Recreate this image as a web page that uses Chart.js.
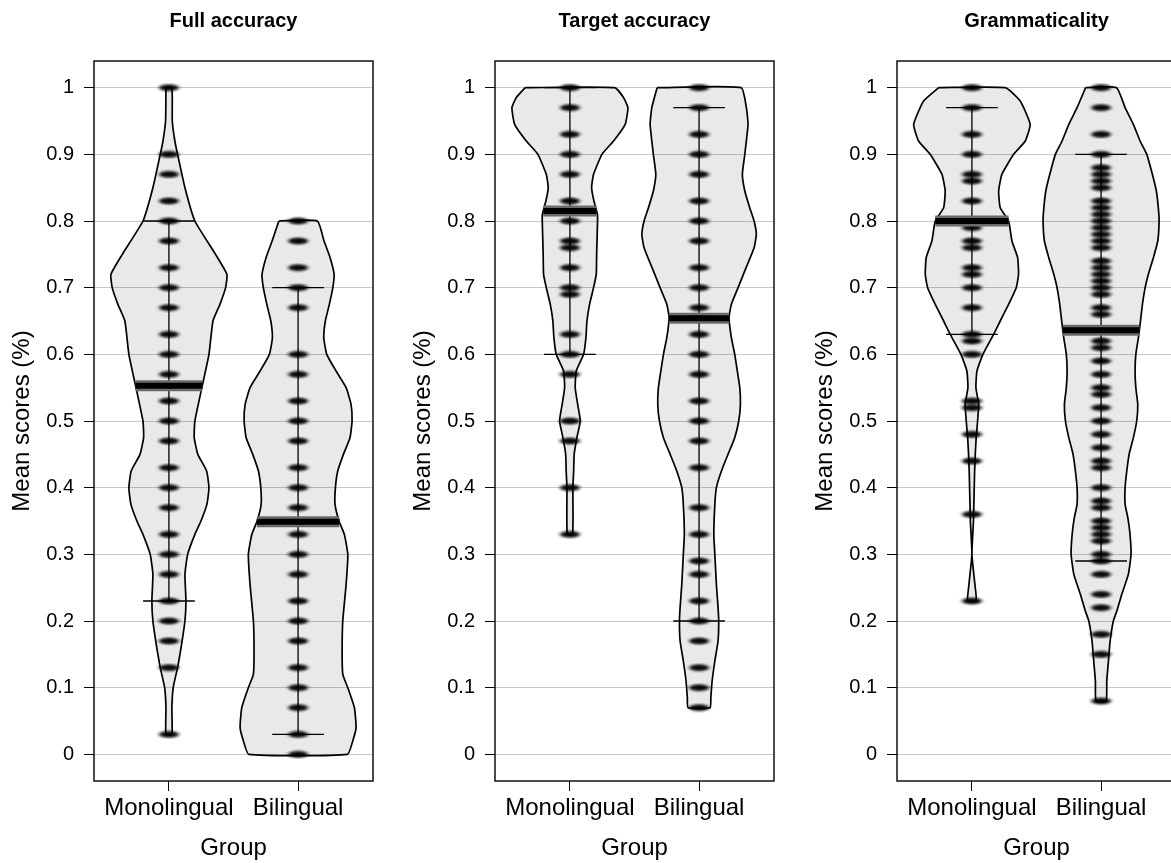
<!DOCTYPE html>
<html>
<head>
<meta charset="utf-8">
<title>Mean scores by group</title>
<script src="https://cdn.jsdelivr.net/npm/chart.js@4.4.1/dist/chart.umd.min.js"></script>
<style>
  html, body { margin: 0; padding: 0; background: #fff; overflow: hidden; }
  #wrap { position: relative; width: 1171px; height: 863px; overflow: hidden; }
  canvas { position: absolute; top: 0; }
</style>
</head>
<body>
<div id="wrap">
  <canvas id="full" width="380" height="863" style="left:0px"></canvas>
  <canvas id="target" width="380" height="863" style="left:401px"></canvas>
  <canvas id="gram" width="380" height="863" style="left:803px"></canvas>
</div>
<script>
const groups = ['Monolingual', 'Bilingual'];
const yTicks = [0, 0.1, 0.2, 0.3, 0.4, 0.5, 0.6, 0.7, 0.8, 0.9, 1];

// bean outlines: score levels (top to bottom) and half-widths in group-axis units
const fullMonoY = [1.0, 0.95, 0.92, 0.9, 0.85, 0.8, 0.75, 0.72, 0.7, 0.675, 0.65, 0.6, 0.55, 0.5, 0.475, 0.45, 0.425, 0.4, 0.375, 0.35, 0.33, 0.3, 0.27, 0.23, 0.2, 0.165, 0.13, 0.1, 0.07, 0.03];
const fullMonoW = [0.023, 0.026, 0.046, 0.067, 0.124, 0.201, 0.361, 0.449, 0.439, 0.395, 0.341, 0.310, 0.255, 0.201, 0.196, 0.224, 0.292, 0.310, 0.294, 0.248, 0.201, 0.145, 0.124, 0.132, 0.124, 0.098, 0.067, 0.033, 0.023, 0.023];
const fullBiY = [0.8, 0.77, 0.745, 0.72, 0.7, 0.675, 0.65, 0.625, 0.6, 0.575, 0.55, 0.525, 0.5, 0.475, 0.45, 0.425, 0.4, 0.375, 0.35, 0.33, 0.3, 0.255, 0.2, 0.155, 0.12, 0.1, 0.07, 0.04, 0.02, 0.0];
const fullBiW = [0.149, 0.201, 0.248, 0.279, 0.269, 0.242, 0.211, 0.199, 0.222, 0.294, 0.372, 0.410, 0.418, 0.402, 0.351, 0.307, 0.289, 0.286, 0.317, 0.358, 0.385, 0.372, 0.346, 0.341, 0.346, 0.385, 0.436, 0.449, 0.423, 0.382];

const targetMonoY = [1.0, 0.985, 0.97, 0.945, 0.92, 0.9, 0.87, 0.85, 0.83, 0.81, 0.8, 0.75, 0.72, 0.7, 0.675, 0.65, 0.625, 0.6, 0.575, 0.55, 0.525, 0.5, 0.475, 0.45, 0.425, 0.4, 0.33];
const targetMonoW = [0.346, 0.416, 0.449, 0.428, 0.338, 0.248, 0.183, 0.168, 0.186, 0.213, 0.214, 0.207, 0.204, 0.183, 0.152, 0.132, 0.124, 0.106, 0.049, 0.041, 0.060, 0.080, 0.054, 0.033, 0.029, 0.023, 0.021];
const targetBiY = [1.0, 0.97, 0.945, 0.9, 0.87, 0.845, 0.82, 0.8, 0.78, 0.76, 0.73, 0.7, 0.675, 0.655, 0.625, 0.6, 0.575, 0.55, 0.525, 0.5, 0.475, 0.45, 0.425, 0.4, 0.375, 0.33, 0.3, 0.255, 0.22, 0.2, 0.17, 0.14, 0.11, 0.085, 0.07];
const targetBiW = [0.325, 0.366, 0.379, 0.354, 0.335, 0.354, 0.392, 0.426, 0.443, 0.426, 0.364, 0.302, 0.250, 0.232, 0.250, 0.276, 0.296, 0.315, 0.320, 0.307, 0.276, 0.224, 0.173, 0.134, 0.122, 0.114, 0.122, 0.134, 0.147, 0.152, 0.147, 0.122, 0.101, 0.091, 0.085];

const gramMonoY = [1.0, 0.98, 0.945, 0.92, 0.9, 0.87, 0.845, 0.82, 0.8, 0.77, 0.745, 0.72, 0.7, 0.675, 0.65, 0.63, 0.6, 0.575, 0.55, 0.525, 0.5, 0.475, 0.45, 0.425, 0.4, 0.375, 0.35, 0.3, 0.255, 0.23];
const gramMonoW = [0.258, 0.374, 0.451, 0.413, 0.323, 0.232, 0.207, 0.219, 0.284, 0.310, 0.354, 0.361, 0.343, 0.284, 0.219, 0.168, 0.085, 0.039, 0.031, 0.052, 0.044, 0.033, 0.026, 0.021, 0.018, 0.015, 0.012, 0.0, 0.023, 0.033];
const gramBiY = [1.0, 0.97, 0.945, 0.92, 0.9, 0.87, 0.845, 0.82, 0.8, 0.77, 0.745, 0.72, 0.7, 0.675, 0.645, 0.625, 0.6, 0.575, 0.55, 0.525, 0.5, 0.475, 0.45, 0.425, 0.4, 0.375, 0.355, 0.33, 0.3, 0.27, 0.24, 0.215, 0.2, 0.17, 0.14, 0.11, 0.08];
const gramBiW = [0.120, 0.186, 0.250, 0.302, 0.354, 0.397, 0.428, 0.443, 0.449, 0.439, 0.405, 0.366, 0.341, 0.320, 0.302, 0.289, 0.269, 0.263, 0.269, 0.284, 0.276, 0.250, 0.217, 0.199, 0.186, 0.186, 0.207, 0.224, 0.232, 0.211, 0.160, 0.122, 0.095, 0.070, 0.057, 0.044, 0.039];

// observed score levels per group
const fullMonoScores = [1, 0.9, 0.87, 0.83, 0.8, 0.77, 0.73, 0.7, 0.67, 0.63, 0.6, 0.57, 0.53, 0.5, 0.47, 0.43, 0.4, 0.37, 0.33, 0.3, 0.27, 0.23, 0.2, 0.17, 0.13, 0.03];
const fullBiScores = [0.8, 0.77, 0.73, 0.7, 0.67, 0.6, 0.57, 0.53, 0.5, 0.47, 0.43, 0.4, 0.37, 0.33, 0.3, 0.27, 0.23, 0.2, 0.17, 0.13, 0.1, 0.07, 0.03, 0];
const targetMonoScores = [1, 0.97, 0.93, 0.9, 0.87, 0.83, 0.8, 0.77, 0.76, 0.73, 0.7, 0.69, 0.63, 0.6, 0.57, 0.5, 0.47, 0.4, 0.33];
const targetBiScores = [1, 0.97, 0.93, 0.9, 0.87, 0.83, 0.8, 0.77, 0.73, 0.7, 0.67, 0.63, 0.6, 0.57, 0.53, 0.5, 0.47, 0.43, 0.37, 0.33, 0.29, 0.27, 0.23, 0.2, 0.17, 0.13, 0.1, 0.07];
const gramMonoScores = [1, 0.97, 0.93, 0.9, 0.87, 0.86, 0.83, 0.8, 0.79, 0.77, 0.76, 0.73, 0.72, 0.7, 0.67, 0.63, 0.62, 0.6, 0.53, 0.52, 0.48, 0.44, 0.36, 0.23];
const gramBiScores = [1, 0.97, 0.93, 0.9, 0.88, 0.87, 0.86, 0.85, 0.83, 0.82, 0.81, 0.8, 0.79, 0.78, 0.77, 0.76, 0.74, 0.73, 0.72, 0.71, 0.7, 0.69, 0.67, 0.66, 0.62, 0.61, 0.59, 0.57, 0.55, 0.54, 0.52, 0.5, 0.48, 0.46, 0.44, 0.43, 0.4, 0.38, 0.37, 0.35, 0.34, 0.33, 0.32, 0.3, 0.29, 0.27, 0.24, 0.22, 0.18, 0.15, 0.08];

// group means and interval (low, high)
const fullMeans = [0.553, 0.349];
const targetMeans = [0.815, 0.654];
const gramMeans = [0.80, 0.636];
const fullBands = [[0.23, 0.80], [0.03, 0.70]];
const targetBands = [[0.60, 1.0], [0.20, 0.97]];
const gramBands = [[0.63, 0.97], [0.29, 0.90]];

Chart.defaults.font.family = '"Liberation Sans", Arial, Helvetica, sans-serif';
Chart.defaults.color = '#000';

// soft horizontal smear used for each score level
const blob = document.createElement('canvas');
blob.width = 30;
blob.height = 10;
(function () {
  const b = blob.getContext('2d');
  b.filter = 'blur(0.8px)';
  b.fillStyle = 'rgba(0,0,0,0.35)';
  b.beginPath();
  b.ellipse(15, 5, 12, 3.4, 0, 0, Math.PI * 2);
  b.fill();
  b.fillStyle = 'rgba(0,0,0,0.95)';
  b.beginPath();
  b.ellipse(15, 5, 9, 3, 0, 0, Math.PI * 2);
  b.fill();
})();

function halfWidthAt(ys, ws, v) {
  for (let i = 0; i < ys.length - 1; i++) {
    if (v <= ys[i] && v >= ys[i + 1]) {
      const t = (ys[i] - v) / (ys[i] - ys[i + 1]);
      return ws[i] + t * (ws[i + 1] - ws[i]);
    }
  }
  return 0;
}

function beanDatasets(pos, ys, ws, scores, mean, band) {
  const outline = ys.map((y, i) => ({ x: pos - ws[i], y }))
    .concat(ys.map((y, i) => ({ x: pos + ws[i], y })).reverse());
  outline.push(outline[0]);
  const mw = halfWidthAt(ys, ws, mean);
  const cap = 0.2;
  return [
    { type: 'line', data: outline, fill: 'shape', backgroundColor: 'rgba(0,0,0,0.085)',
      borderColor: '#000', borderWidth: 1.7, tension: 0.15, pointRadius: 0, order: 5 },
    { type: 'line', data: [
        { x: pos - cap, y: band[0] }, { x: pos + cap, y: band[0] }, { x: pos, y: null },
        { x: pos, y: band[0] }, { x: pos, y: band[1] }, { x: pos, y: null },
        { x: pos - cap, y: band[1] }, { x: pos + cap, y: band[1] }],
      borderColor: '#000', borderWidth: 1.3, pointRadius: 0, spanGaps: false, fill: false, order: 4 },
    { type: 'scatter', data: scores.map(s => ({ x: pos, y: s })), pointStyle: blob, pointRadius: 5, order: 3 },
    { type: 'line', data: [{ x: pos - mw, y: mean }, { x: pos + mw, y: mean }],
      borderColor: '#6a6a6a', borderWidth: 11, pointRadius: 0, fill: false, order: 2 },
    { type: 'line', data: [{ x: pos - mw, y: mean }, { x: pos + mw, y: mean }],
      borderColor: '#000', borderWidth: 6, pointRadius: 0, fill: false, order: 1 }
  ];
}

// box around the plot region plus the panel heading
const panelFrame = {
  id: 'panelFrame',
  afterDatasetsDraw(chart, args, opts) {
    const { ctx, chartArea: a } = chart;
    ctx.save();
    ctx.lineWidth = 1.5;
    ctx.strokeStyle = '#111';
    ctx.strokeRect(a.left, a.top, a.right - a.left, a.bottom - a.top);
    ctx.font = 'bold 20px "Liberation Sans", Arial, sans-serif';
    ctx.fillStyle = '#000';
    ctx.textAlign = 'center';
    ctx.textBaseline = 'middle';
    ctx.fillText(opts.text, (a.left + a.right) / 2, 21);
    ctx.restore();
  }
};

function makePanel(id, title, beans) {
  const datasets = [];
  beans.forEach((b, i) => datasets.push(...beanDatasets(i + 1, b[0], b[1], b[2], b[3], b[4])));
  return new Chart(document.getElementById(id), {
    type: 'line',
    data: { datasets },
    options: {
      responsive: false,
      animation: false,
      events: [],
      layout: { padding: { top: 61, right: 7, bottom: 0, left: 0 } },
      plugins: {
        legend: { display: false },
        tooltip: { enabled: false },
        panelFrame: { text: title }
      },
      scales: {
        x: {
          type: 'linear', min: 0.42, max: 2.58,
          afterBuildTicks: s => { s.ticks = groups.map((g, i) => ({ value: i + 1 })); },
          afterFit: s => { s.height = 82; },
          ticks: { autoSkip: false, maxRotation: 0, minRotation: 0, padding: 3,
                   font: { size: 24 }, callback: v => groups[v - 1] },
          grid: { drawOnChartArea: false, color: '#000', tickLength: 10 },
          border: { display: false },
          title: { display: true, text: 'Group', font: { size: 24, lineHeight: 1 },
                   padding: { top: 0, bottom: 3 } }
        },
        y: {
          min: -0.04, max: 1.04,
          afterBuildTicks: s => { s.ticks = yTicks.map(v => ({ value: v })); },
          afterFit: s => { s.width = 94; },
          ticks: { padding: 10, font: { size: 20 }, callback: v => String(Math.round(v * 10) / 10) },
          grid: { color: '#c8c8c8', tickColor: '#000', tickLength: 10 },
          border: { display: false },
          title: { display: true, text: 'Mean scores (%)', font: { size: 24, lineHeight: 1 },
                   padding: { top: 10, bottom: 0 } }
        }
      }
    },
    plugins: [panelFrame]
  });
}

makePanel('full', 'Full accuracy', [
  [fullMonoY, fullMonoW, fullMonoScores, fullMeans[0], fullBands[0]],
  [fullBiY, fullBiW, fullBiScores, fullMeans[1], fullBands[1]]
]);
makePanel('target', 'Target accuracy', [
  [targetMonoY, targetMonoW, targetMonoScores, targetMeans[0], targetBands[0]],
  [targetBiY, targetBiW, targetBiScores, targetMeans[1], targetBands[1]]
]);
makePanel('gram', 'Grammaticality', [
  [gramMonoY, gramMonoW, gramMonoScores, gramMeans[0], gramBands[0]],
  [gramBiY, gramBiW, gramBiScores, gramMeans[1], gramBands[1]]
]);
</script>
</body>
</html>
